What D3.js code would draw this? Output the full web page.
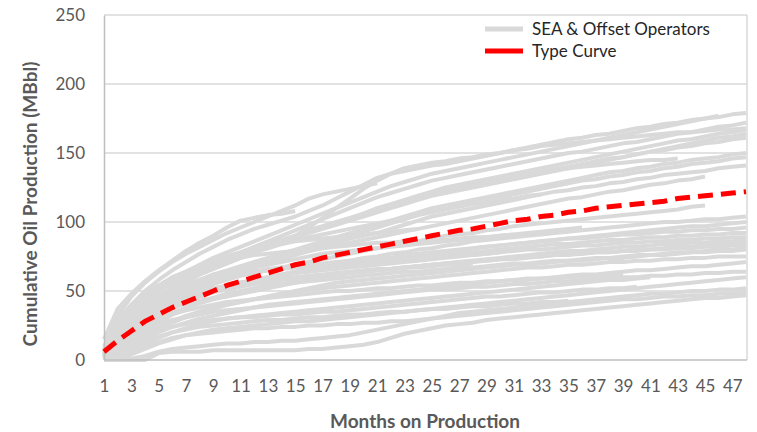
<!DOCTYPE html>
<html>
<head>
<meta charset="utf-8">
<script src="https://cdn.jsdelivr.net/npm/d3@7"></script>
<style>
  html, body { margin: 0; padding: 0; background: #fff; }
  svg text { font-family: Lato, "Open Sans", sans-serif; fill: #595959; }
</style>
</head>
<body>
<svg id="chart" width="757" height="432"></svg>
<script>
// Months on production (x categories) and y-axis ticks
const months = d3.range(1, 49);
const xTickLabels = months.filter(m => m % 2 === 1);
const yTicks = [0, 50, 100, 150, 200, 250];

// Type curve, cumulative oil (MBbl) by month
const typeCurve = [6,14,21,28,33,38,42,46,50,54,57,60,63,66,69,71,74,76,78,80,82,84,86,88,90,92,94,95,97,99,101,102,104,105,107,108,110,111,112,113,114,115,117,118,119,120,121,122];

// SEA & offset operator wells, cumulative oil (MBbl) by month from month 1
const well01 = [10,28,40,50,58,65,71,77,82,87,91,95,98,101,104,108,112,117,122,127,132,135,137,139,141,142,144,146,148,150,152,154,156,158,160,161,163,164,166,168,169,171,172,174,175,177];
const well02 = [3,20,33,43,51,58,64,69,74,78,82,86,90,94,98,102,106,110,114,118,122,126,129,132,135,137,139,141,143,145,147,149,151,153,155,157,159,161,163,165,167,169,171,173,175,176,178,179];
const well03 = [5,22,34,43,50,56,61,66,70,74,78,82,86,90,94,98,102,106,110,114,118,121,124,127,130,132,134,136,138,140,142,144,146,148,150,151,153,155,157,158,160,162,164,165,167,169,170,172];
const well04 = [2,15,27,37,45,52,58,63,68,72,76,80,84,87,90,93,96,99,102,106,110,113,116,119,122,125,127,129,131,133,135,137,139,141,143,145,147,149,151,153,155,157,159,160,162,164,165,167];
const well05 = [0,10,22,32,41,49,56,62,67,71,75,79,83,86,89,92,95,98,101,104,107,110,113,116,119,121,123,125,127,129,131,133,135,137,139,141,143,145,147,149,151,153,155,157,159,161,162,164];
const well06 = [6,25,38,47,54,60,64,68,72,75,78,81,84,87,90,93,96,99,102,105,108,111,114,117,120,122,124,126,128,130,132,134,136,138,140,142,144,146,147,149,151,152,154,155,157,158,160,161];
const well07 = [4,20,31,39,46,52,57,62,66,70,74,78,82,86,90,96,103,110,117,124,130,135,139,141,143,144,146,147,149,150,152,153,155,156,157,158,159,160,161,162,163,164,165,165,166,167,167,168];
const well08 = [8,32,46,56,64,71,77,82,87,92,96,100,104,108,112,117,120,122,124,126,128];
const well09 = [15,37,48,57,65,72,79,85,90,96,101,103,105,106,108];
const well10 = [2,18,30,39,46,52,57,62,66,70,74,78,82,86,90,94,97,100,103,106,109,112,115,118,121,123,125,127,129,131,133,135,137,138,139,140,141,142,143,144,145,145,146];
const well11 = [1,12,24,33,40,46,51,56,60,64,67,71,74,77,80,83,86,89,92,95,98,101,104,107,110,112,114,116,118,120,122,124,126,128,130,132,134,136,137,139,140,142,143,145,146,147,149,150];
const well12 = [3,16,26,34,41,47,52,56,60,63,66,69,72,75,78,81,84,87,90,93,96,99,102,105,108,110,112,114,116,118,120,122,124,126,128,130,131,133,134,136,137,139,140,142,143,144,146,147];
const well13 = [0,8,18,27,35,42,48,53,57,61,64,67,70,73,76,79,82,85,88,90,92,95,98,101,104,106,108,110,112,114,116,118,120,122,123,125,126,128,129,131,132,134,135,136,137,139,140,141];
const well14 = [4,20,31,39,45,50,54,58,62,65,68,71,73,75,77,79,81,83,85,87,89,91,93,95,97,99,101,103,105,107,109,111,113,115,117,118,120,122,123,125,127,128,130,131,133];
const well15 = [2,14,24,32,38,43,47,51,55,58,61,63,65,67,69,71,73,75,77,79,81,83,84,86,88,90,91,92,94,95,97,98,99,100,101,102,103,104,105,106,107,108,109,111,112];
const well16 = [0,6,15,24,31,37,42,46,50,53,56,58,60,62,64,66,68,70,72,74,75,77,78,80,81,83,84,86,87,88,89,90,91,92,93,94,95,96,97,98,99,100,100,101,102,102,103,104];
const well17 = [5,24,35,42,47,51,54,57,59,61,63,64,65,66,67,68,69,70,71,72,73,74,75,76,77,78,79,81,82,83,84,85,86,87,88,89,90,91,92,93,94,95,96,97,97,98,99,100];
const well18 = [7,28,40,48,54,59,63,66,69,72,74,76,77,78,79,80,81,82,83,84,85,85,86,86,87,87,88,89,89,90,91];
const well19 = [1,10,20,28,34,39,43,47,50,53,56,58,60,62,64,66,67,68,69,70,71,72,73,74,75,76,77,78,79,80,81,82,83,84,84,85,86,87,87,88,89,89,90,90,91,91,92,92];
const well20 = [3,18,28,35,40,44,47,50,52,54,56,57,58,59,60,61,62,63,64,65,66,66,67,68,69,70,70,71,72,73,73,74,75,76,76,77,78,78,79,80,80,81,82,82,83,84,84,85];
const well21 = [0,4,12,20,27,33,38,42,45,48,50,52,54,55,56,57,58,59,60,61,62,63,64,64,65,66,67,67,68,69,70,70,71,72,72,73,74,74,75,76,76,77,78,78,79,80,80,81];
const well22 = [2,12,22,30,36,41,45,48,51,53,55,57,59,61,63,64,65,66,67,68,69,70,71,72,73,74,75,76,77,78,79,80,80,81,82,83,83,84,85,85,86,86,87,87,88,88,89,89];
const well23 = [0,8,16,23,29,34,38,41,44,46,48,50,52,54,56,58,60,62,63,64,65,66,67,68,69,70,71,72,73,74,75,76,77,78,79,79,80,81,82,82,83,84,84,85,85,86,86,87];
const well24 = [4,16,24,30,34,38,41,43,45,47,49,51,53,55,57,59,61,62,63,64,65,66,67,68,69,70,71,72,72,73,74,75,75,76,77,77,78,78,79,79,80,80,81,81,82,82,83,83];
const well25 = [1,6,13,19,24,28,32,35,38,40,42,44,46,48,50,52,54,56,57,58,59,60,61,62,63,64,65,66,67,68,69,69,70,71,72,72,73,74,74,75,76,76,77,78,78,79,79,80];
const well26 = [0,3,9,15,20,24,27,30,32,34,36,38,40,41,42,43,44,45,46,47,48,49,50,51,52,53,54,55,56,57,58,59,59,60,61,62,62,63,64,65,65,66,67,68,68,69,70,71];
const well27 = [2,10,17,22,26,29,31,33,35,36,37,38,39,40,41,42,43,44,45,46,47,48,49,50,51,51,52,53,53,54,55,55,56,57,57,58,59,59,60,60,61,61,62,62,63,63,64,64];
const well28 = [0,2,6,11,16,20,23,26,28,30,31,32,33,34,35,36,37,38,39,40,41,42,43,44,45,46,47,48,49,50,51,52,53,54,55,56,57,58,58,59,60];
const well29 = [1,6,12,17,21,24,26,28,29,30,31,31,32,33,33,34,35,35,36,37,38,39,40,41,42,43,44,45,46,46,47,48,49,49,50,51,51,52,52,53];
const well30 = [0,1,4,8,12,15,18,20,22,23,24,25,26,27,28,28,29,30,31,32,33,34,35,36,37,38,39,40,41,42,43,44,45,46,47,48,49,50,51,52,53,54,55,56,57,58,59,60];
const well31 = [0,2,6,10,13,16,18,19,20,21,22,23,23,24,24,25,25,26,26,27,27,28,28,29,30,31,32,33,34,35,36,37,38,39,40,41,42,43,44,44,45,46,46,47,47,48,48,49];
const well32 = [0,0,0,0,5,6,6,6,7,7,7,7,7,7,7,8,8,9,10,11,13,16,19,21,23,25,26,27,29,30,31,32,33,34,35,36,37,38,39,40,41,42,43,44,45,45,46,47];
const well33 = [0,0,1,3,6,8,9,10,11,12,12,13,13,14,14,15,16,17,18,20,22,24,26,28,30,32,34,35,36,37,38,39,40,41,42,43,44,45,46,47,48,48,49,50,50,51,51,52];
const well34 = [3,15,25,32,37,41,44,47,49,51,53,55,56,58,59,60,61,62,63,64,65,66,67,67,68,69,69,70];
const well35 = [2,14,25,33,40,46,51,55,59,62,65,67,69,71,73,75,77,78,79,80,81,82,83,84,85,86,87,88,89,90,91,92,93,94,95,96];
const well36 = [5,22,35,45,53,59,64,68,72,75,78,80,82,84,86,87,88,89,90,91,92,93,94,95];
const well37 = [1,15,28,38,46,53,59,64,68,72,75,78,81,84,87,89,91,93,95,97,99,101,103,105,107,109,111,113,114,116,117,119,120];
const well38 = [0,5,12,18,23,27,31,34,37,40,42,44,46,48,49,51,52,53,54,55,56,57,58,59,60,61,62,63,64,65,66,67,67,68,69,69,70,71,71,72,72,73,73,74,74,75,75,75];
const well39 = [2,10,18,24,29,33,36,38,40,42,43,44,45,46,47,48,49,50,50,51,52,52,53,54,54,55,56,56,57,57,58,58,59,59,60,60,61,61,62];
const well40 = [0,3,8,13,17,20,22,24,25,26,27,28,29,29,30,31,31,32,33,33,34,35,35,36,37,37,38,39,39,40,41,41,42,42,43];
const well41 = [1,9,19,27,33,38,42,46,49,52,55,57,59,61,63,65,67,69,70,72,73,74,76,77,78,79,80,81,82,83,84,85,86,87,88,88,89,90,91,91,92,93,93,94,94,95,95,96];
const well42 = [3,18,30,38,44,49,53,56,59,61,63,64,66,67,68,69,70,71,72,72,73,73,74,74,75,75,76,76,77,78];

const wells = [well01,well02,well03,well04,well05,well06,well07,well08,well09,well10,
  well11,well12,well13,well14,well15,well16,well17,well18,well19,well20,
  well21,well22,well23,well24,well25,well26,well27,well28,well29,well30,
  well31,well32,well33,well34,well35,well36,well37,well38,well39,well40,
  well41,well42];

const seriesNames = ["SEA & Offset Operators", "Type Curve"];
const xTitle = "Months on Production";
const yTitle = "Cumulative Oil Production (MBbl)";

// Layout
const svg = d3.select("#chart");
const plot = { left: 104, right: 746, top: 15, bottom: 360 };

const x = d3.scalePoint().domain(months).range([plot.left, plot.right]);
const y = d3.scaleLinear().domain([0, 250]).range([plot.bottom, plot.top]);

// Horizontal gridlines
svg.append("g")
  .selectAll("line")
  .data(yTicks.filter(t => t > 0))
  .join("line")
  .attr("x1", plot.left).attr("x2", plot.right + 1)
  .attr("y1", d => y(d)).attr("y2", d => y(d))
  .attr("stroke", "#d9d9d9").attr("stroke-width", 1.5);

// Right border of the plot area
svg.append("line")
  .attr("x1", plot.right + 1).attr("x2", plot.right + 1)
  .attr("y1", plot.top).attr("y2", plot.bottom)
  .attr("stroke", "#d9d9d9").attr("stroke-width", 1.5);

const line = d3.line()
  .x((d, i) => x(months[i]))
  .y(d => y(d));

// Offset well curves
svg.append("g")
  .selectAll("path")
  .data(wells)
  .join("path")
  .attr("d", line)
  .attr("fill", "none")
  .attr("stroke", "#d9d9d9")
  .attr("stroke-width", 4)
  .attr("stroke-linejoin", "round");

// Axes
const yAxis = d3.axisLeft(y).tickValues(yTicks).tickSize(0).tickPadding(19);
const gy = svg.append("g").attr("transform", `translate(${plot.left},0)`).call(yAxis);
gy.select(".domain").attr("stroke", "#bfbfbf").attr("stroke-width", 1.5);
gy.selectAll("text").style("font-size", "17px").attr("fill", "#595959");

const xAxis = d3.axisBottom(x).tickValues(xTickLabels).tickSize(0).tickPadding(20);
const gx = svg.append("g").attr("transform", `translate(0,${plot.bottom})`).call(xAxis);
gx.select(".domain").attr("d", `M${plot.left},0H${plot.right + 1}`).attr("stroke", "#bfbfbf").attr("stroke-width", 1.5);
gx.selectAll("text").style("font-size", "17px").attr("fill", "#595959");

// Type curve
svg.append("path")
  .datum(typeCurve)
  .attr("d", line)
  .attr("fill", "none")
  .attr("stroke", "#ff0000")
  .attr("stroke-width", 5)
  .attr("stroke-dasharray", "15,8");

// Axis titles
svg.append("text")
  .attr("x", 425).attr("y", 428)
  .attr("text-anchor", "middle")
  .style("font-size", "19px").style("font-weight", "bold")
  .text(xTitle);

svg.append("text")
  .attr("transform", `translate(37,204) rotate(-90)`)
  .attr("text-anchor", "middle")
  .style("font-size", "19px").style("font-weight", "bold")
  .text(yTitle);

// Legend
const legend = svg.append("g");
const legendColors = ["#d9d9d9", "#ff0000"];
seriesNames.forEach((name, i) => {
  const ly = 29 + i * 22;
  legend.append("line")
    .attr("x1", 485).attr("x2", 523)
    .attr("y1", ly).attr("y2", ly)
    .attr("stroke", legendColors[i])
    .attr("stroke-width", 5);
  legend.append("text")
    .attr("x", 532).attr("y", ly + 6)
    .style("font-size", "17px")
    .style("fill", "#262626")
    .text(name);
});
</script>
</body>
</html>
